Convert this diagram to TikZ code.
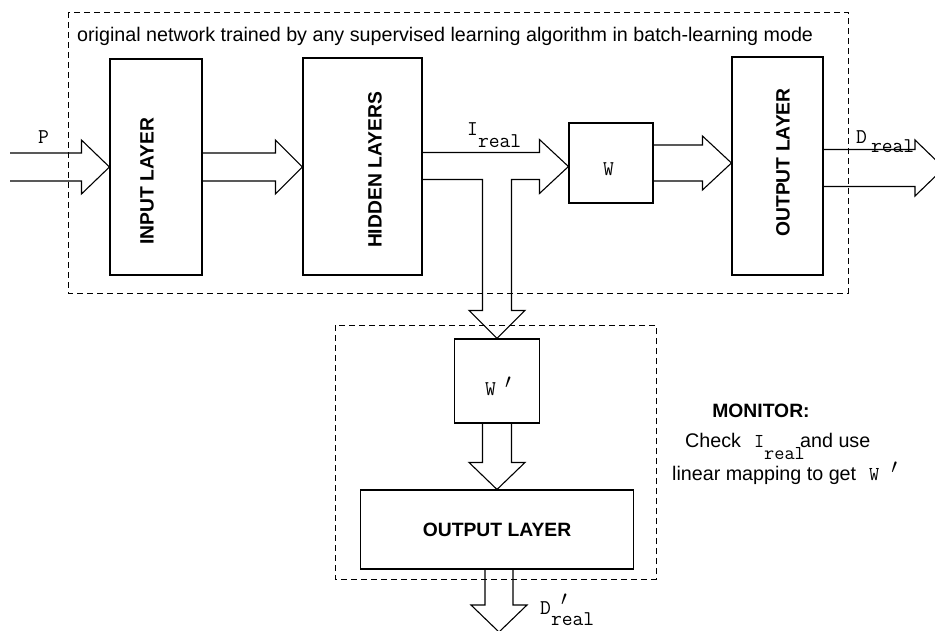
\documentclass[tikz,border=0pt]{standalone}
\usepackage{fontspec}
\setmainfont{Liberation Sans}
\usetikzlibrary{calc}
\newcommand{\hfat}[5]{\draw[fat] let \p1=(#1), \p2=(#2) in (\x1,\y2+#3) -- (\x2-#5,\y2+#3) -- (\x2-#5,\y2+#4) -- (\p2) -- (\x2-#5,\y2-#4) -- (\x2-#5,\y2-#3) -- (\x1,\y2-#3);}
\newcommand{\vfat}[5]{\draw[fat] let \p1=(#1), \p2=(#2) in (\x2-#3,\y1) -- (\x2-#3,\y2+#5) -- (\x2-#4,\y2+#5) -- (\p2) -- (\x2+#4,\y2+#5) -- (\x2+#3,\y2+#5) -- (\x2+#3,\y1);}
\begin{document}
\begin{tikzpicture}[x=1pt,y=-1pt,
  box/.style={draw, line width=1.1pt, inner sep=0pt},
  dbox/.style={draw, line width=1pt, dash pattern=on 6pt off 4pt},
  fat/.style={draw, line width=1.1pt, line join=miter},
  lab/.style={font=\fontsize{19.3}{22}\selectfont\bfseries, inner sep=0pt},
  mono/.style={font=\fontsize{21}{23}\selectfont\ttfamily, inner sep=0pt},
  txt/.style={font=\fontsize{19.7}{22}\selectfont, inner sep=0pt}]
\useasboundingbox (0,0) rectangle (935,630);
% frames
\draw[dbox] (68,12) rectangle (848,293);
\draw[dbox] (335,325) rectangle (656,579);
% boxes
\node[box, minimum width=92pt, minimum height=216pt] (input) at (156,167) {};
\node[box, minimum width=119pt, minimum height=217pt] (hidden) at (362.5,166.5) {};
\node[box, minimum width=84pt, minimum height=80pt] (W) at (611,163) {};
\node[box, minimum width=91pt, minimum height=218pt] (output) at (777.5,166) {};
\node[box, minimum width=85pt, minimum height=84pt] (Wp) at (497,381) {};
\node[box, lab, minimum width=273pt, minimum height=79pt] (out2) at (497,529.5) {OUTPUT LAYER};
% labels in boxes
\node[lab, rotate=90] (inl) at (147,181) {INPUT LAYER};
\node[lab, rotate=90] (hidl) at (375,170) {HIDDEN LAYERS};
\node[lab, rotate=90] (outl) at (783,162.5) {OUTPUT LAYER};
\node[mono, anchor=base west] (Wl) at (603,175) {W};
\node[mono, anchor=base west] (Wpl) at (485,395) {W\hspace{9pt}\raisebox{7pt}{$\prime$}};
% title
\node[txt, anchor=base west] (title) at (77,41) {original network trained by any supervised learning algorithm in batch-learning mode};
% fat arrows
\coordinate (Pin) at (10,166);
\hfat{Pin}{input.west}{14pt}{27pt}{28pt}
\hfat{input.east}{hidden.west |- input.east}{14pt}{27pt}{27pt}
\hfat{W.east}{output.west |- W.east}{18pt}{27pt}{29pt}
\coordinate (Dtip) at (944,168);
\hfat{output.east}{Dtip}{18.5pt}{28pt}{29pt}
\draw[fat] let \p1=(hidden.east), \p2=(W.west |- hidden.east), \p3=(Wp.north) in
  (\x1,\y1+14pt) -- (\x2-29pt,\y1+14pt) -- (\x2-29pt,\y1+27pt) -- (\p2) -- (\x2-29pt,\y1-27pt) -- (\x2-29pt,\y1-13pt)
  -- (\x3+14.5pt,\y1-13pt) -- (\x3+14.5pt,\y3+28pt) -- (\x3+28pt,\y3+28pt) -- (\p3) -- (\x3-28pt,\y3+28pt)
  -- (\x3-14.5pt,\y3+28pt) -- (\x3-14.5pt,\y1-13pt) -- (\x1,\y1-13pt);
\vfat{Wp.south}{out2.north}{14.5pt}{28pt}{27pt}
\coordinate (Dp) at (499,632);
\vfat{out2.south}{Dp}{14pt}{28pt}{27pt}
% arrow labels
\node[mono, anchor=base west] (P) at (38,143) {P};
\node[mono, anchor=base west] (ireal) at (467,135) {I\raisebox{-12pt}{real}};
\node[mono, anchor=base west] (dreal) at (856,143) {D\hspace{4pt}\raisebox{-9pt}{real}};
\node[mono, anchor=base west] (dpreal) at (540,614) {D\rlap{\raisebox{9pt}{\hspace{10pt}$\prime$}}\raisebox{-11pt}{real}};
% monitor
\node[lab, anchor=base] (mon) at (761,417) {MONITOR:};
\node[txt, anchor=base west] (chk) at (685,447) {Check\hspace{13pt}\texttt{I}\rlap{\raisebox{-12pt}{\texttt{real}}}\hspace{36pt}and use};
\node[txt, anchor=base west] (lin) at (672,480) {linear mapping to get\hspace{13pt}\texttt{W}\hspace{12pt}\raisebox{7pt}{$\prime$}};
\end{tikzpicture}
\end{document}
